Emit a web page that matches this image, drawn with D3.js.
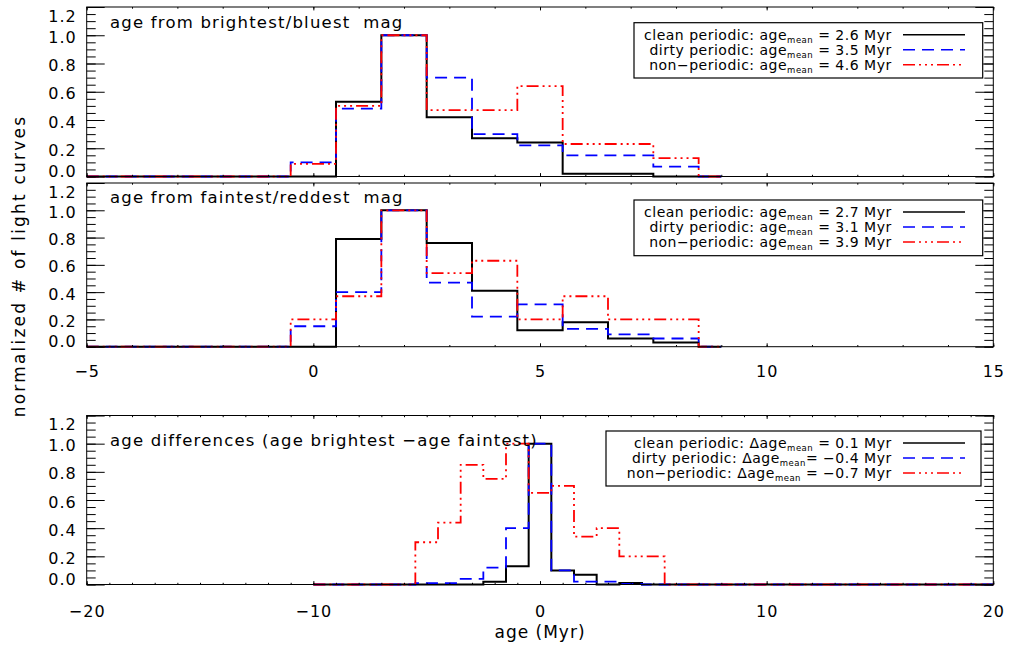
<!DOCTYPE html>
<html>
<head>
<meta charset="utf-8">
<script src="https://cdn.jsdelivr.net/npm/d3@7"></script>
<style>
  body { margin: 0; background: #fff; }
  svg { display: block; font-family: "DejaVu Sans", sans-serif; }
  .tick line { stroke: #000; stroke-width: 1; }
  .tick text { font-size: 16px; letter-spacing: 1px; fill: #000; font-family: "DejaVu Sans", sans-serif; }
</style>
</head>
<body>
<svg id="chart" width="1014" height="652"></svg>
<script>
// bin centres (Myr)
var ageCenters  = [-5, -4, -3, -2, -1, 0, 1, 2, 3, 4, 5, 6, 7, 8, 9];
var diffCenters = [-10, -9, -8, -7, -6, -5, -4, -3, -2, -1, 0, 1, 2, 3, 4, 5, 6, 7, 8, 9, 10,
                   11, 12, 13, 14, 15, 16, 17, 18, 19, 20];

// age from brightest/bluest mag
var cleanBright  = [0, 0, 0, 0, 0, 0,    0.53, 1.0, 0.42, 0.27, 0.24, 0.02, 0.02, 0,    0];
var dirtyBright  = [0, 0, 0, 0, 0, 0.10, 0.48, 1.0, 0.70, 0.30, 0.22, 0.15, 0.15, 0.07, 0];
var nonperBright = [0, 0, 0, 0, 0, 0.09, 0.50, 1.0, 0.47, 0.47, 0.64, 0.23, 0.23, 0.13, 0];

// age from faintest/reddest mag
var cleanFaint  = [0, 0, 0, 0, 0, 0,    0.79, 1.0, 0.76, 0.41, 0.12, 0.18, 0.06, 0.03, 0];
var dirtyFaint  = [0, 0, 0, 0, 0, 0.15, 0.40, 1.0, 0.47, 0.22, 0.31, 0.13, 0.09, 0.06, 0];
var nonperFaint = [0, 0, 0, 0, 0, 0.20, 0.37, 1.0, 0.54, 0.63, 0.20, 0.37, 0.20, 0.20, 0];

// age differences
var cleanDiff  = [0, 0, 0, 0, 0, 0, 0, 0, 0.02, 0.13, 1.0, 0.10, 0.07, 0, 0.01, 0,
                  0, 0, 0, 0, 0, 0, 0, 0, 0, 0, 0, 0, 0, 0, 0];
var dirtyDiff  = [0, 0, 0, 0, 0, 0.01, 0.01, 0.04, 0.12, 0.40, 1.0, 0.10, 0.02, 0.02, 0.005, 0,
                  0, 0, 0, 0, 0, 0, 0, 0, 0, 0, 0, 0, 0, 0, 0];
var nonperDiff = [0, 0, 0, 0, 0, 0.30, 0.44, 0.85, 0.75, 1.0, 0.65, 0.70, 0.34, 0.40, 0.20, 0.20,
                  0, 0, 0, 0, 0, 0, 0, 0, 0, 0, 0, 0, 0, 0, 0];

var yTicks = [0, 0.2, 0.4, 0.6, 0.8, 1.0, 1.2];
var ageTicks = [-5, 0, 5, 10, 15];
var diffTicks = [-20, -10, 0, 10, 20];

var legendBright = [["clean periodic: age", "mean", " = 2.6 Myr"],
                    ["dirty periodic: age", "mean", " = 3.5 Myr"],
                    ["non\u2212periodic: age", "mean", " = 4.6 Myr"]];
var legendFaint  = [["clean periodic: age", "mean", " = 2.7 Myr"],
                    ["dirty periodic: age", "mean", " = 3.1 Myr"],
                    ["non\u2212periodic: age", "mean", " = 3.9 Myr"]];
var legendDiff   = [["clean periodic: \u0394age", "mean", " = 0.1 Myr"],
                    ["dirty periodic: \u0394age", "mean", "= \u22120.4 Myr"],
                    ["non\u2212periodic: \u0394age", "mean", " = \u22120.7 Myr"]];

var styles = [
    {color: "#000000", dash: null, width: 2},
    {color: "#0000ff", dash: "12,7", width: 1.8},
    {color: "#ff0000", dash: "12,4,2,4,2,4,2,4", width: 1.8}
];

var X0 = 86.7, X1 = 993.3;

var panels = [
    {top: 7, bottom: 176.5, domain: [-5, 15], major: ageTicks, centers: ageCenters,
     series: [cleanBright, dirtyBright, nonperBright], labels: false,
     title: "age from brightest/bluest  mag", titleY: 28,
     legend: legendBright, box: [634, 22.7, 982.7, 78]},
    {top: 183, bottom: 346.7, domain: [-5, 15], major: ageTicks, centers: ageCenters,
     series: [cleanFaint, dirtyFaint, nonperFaint], labels: true, pad: 19,
     title: "age from faintest/reddest  mag", titleY: 203,
     legend: legendFaint, box: [634, 200, 982.7, 255.7]},
    {top: 415.5, bottom: 584.5, domain: [-20, 20], major: diffTicks, centers: diffCenters,
     series: [cleanDiff, dirtyDiff, nonperDiff], labels: true, pad: 21,
     title: "age differences (age brightest \u2212age faintest)", titleY: 446,
     legend: legendDiff, box: [606, 431, 981, 486]}
];

var svg = d3.select("#chart");

panels.forEach(function(p){
    var x = d3.scaleLinear().domain(p.domain).range([X0, X1]);
    var y = d3.scaleLinear().domain([0, 1.2]).range([p.bottom, p.top]);
    var g = svg.append("g");
    var span = p.domain[1] - p.domain[0];

    // histograms (IDL psym=10 look)
    var line = d3.line()
        .x(function(d){ return x(d[0]); })
        .y(function(d){ return y(d[1]); })
        .curve(d3.curveStep);

    p.series.forEach(function(s, i){
        var pts = p.centers.map(function(c, k){ return [c, s[k]]; });
        g.append("path")
            .attr("d", line(pts))
            .attr("fill", "none")
            .attr("stroke", styles[i].color)
            .attr("stroke-width", styles[i].width)
            .attr("stroke-dasharray", styles[i].dash);
    });

    // box
    g.append("rect")
        .attr("x", X0).attr("y", p.top)
        .attr("width", X1 - X0).attr("height", p.bottom - p.top)
        .attr("fill", "none").attr("stroke", "#000").attr("stroke-width", 1);

    // y axes, ticks pointing in
    var yl = g.append("g").attr("transform", "translate(" + X0 + ",0)")
        .call(d3.axisLeft(y).tickValues(yTicks).tickSize(-18).tickPadding(10).tickFormat(d3.format(".1f")));
    yl.selectAll(".tick text").attr("y", function(d){
        if(d === 1.2) return 9;
        if(d === 0) return -5;
        return 2;
    });
    g.append("g").attr("transform", "translate(" + X0 + ",0)")
        .call(d3.axisLeft(y).ticks(24).tickSize(-9).tickFormat(""));
    g.append("g").attr("transform", "translate(" + X1 + ",0)")
        .call(d3.axisRight(y).tickValues(yTicks).tickSize(-18).tickFormat(""));
    g.append("g").attr("transform", "translate(" + X1 + ",0)")
        .call(d3.axisRight(y).ticks(24).tickSize(-9).tickFormat(""));

    // x axes
    var xb = d3.axisBottom(x).tickValues(p.major).tickSize(-3.4);
    if(p.labels) xb.tickPadding(p.pad).tickFormat(d3.format("d"));
    else xb.tickFormat("");
    g.append("g").attr("transform", "translate(0," + p.bottom + ")").call(xb);
    g.append("g").attr("transform", "translate(0," + p.bottom + ")")
        .call(d3.axisBottom(x).ticks(span).tickSize(-1.7).tickFormat(""));
    g.append("g").attr("transform", "translate(0," + p.top + ")")
        .call(d3.axisTop(x).tickValues(p.major).tickSize(-3.4).tickFormat(""));
    g.append("g").attr("transform", "translate(0," + p.top + ")")
        .call(d3.axisTop(x).ticks(span).tickSize(-1.7).tickFormat(""));

    g.selectAll(".domain").remove();

    // panel title
    g.append("text")
        .attr("x", 110).attr("y", p.titleY)
        .attr("font-size", 16.5).attr("letter-spacing", "1.2px")
        .style("white-space", "pre")
        .text(p.title);

    // legend
    var b = p.box;
    g.append("rect")
        .attr("x", b[0]).attr("y", b[1])
        .attr("width", b[2] - b[0]).attr("height", b[3] - b[1])
        .attr("fill", "#fff").attr("stroke", "#000").attr("stroke-width", 1.2);

    p.legend.forEach(function(row, i){
        var base = b[1] + 17 + 15 * i;
        var t = g.append("text")
            .attr("x", 891.7).attr("y", base)
            .attr("text-anchor", "end")
            .attr("font-size", 14).attr("letter-spacing", "0.5px")
            .style("white-space", "pre");
        t.append("tspan").text(row[0]);
        t.append("tspan").attr("font-size", 8.5).attr("dy", 3).text(row[1]);
        t.append("tspan").attr("dy", -3).text(row[2]);

        g.append("line")
            .attr("x1", 903).attr("x2", 965)
            .attr("y1", base - 5).attr("y2", base - 5)
            .attr("stroke", styles[i].color)
            .attr("stroke-width", 1.5)
            .attr("stroke-dasharray", styles[i].dash);
    });
});

// axis titles
svg.append("text")
    .attr("x", 540).attr("y", 638)
    .attr("text-anchor", "middle")
    .attr("font-size", 17).attr("letter-spacing", "1px")
    .text("age (Myr)");

svg.append("text")
    .attr("transform", "translate(25,266) rotate(-90)")
    .attr("text-anchor", "middle")
    .attr("font-size", 17).attr("letter-spacing", "2.2px")
    .text("normalized # of light curves");
</script>
</body>
</html>
